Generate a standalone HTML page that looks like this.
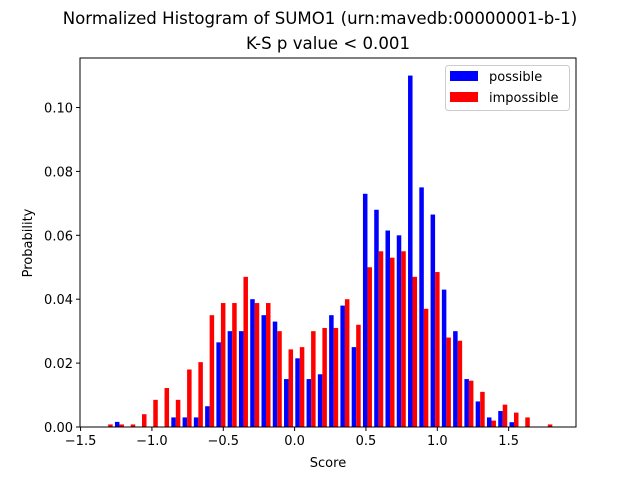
<!DOCTYPE html>
<html><head><meta charset="utf-8"><style>
body{margin:0;background:#fff;font-family:"Liberation Sans","DejaVu Sans",sans-serif}
svg text{font-family:"DejaVu Sans","Liberation Sans",sans-serif}
</style></head><body>
<svg id="chart" width="640" height="480" viewBox="0 0 640 480">
<rect width="640" height="480" fill="#fff"/>
<text x="320" y="24" font-size="16.6" text-anchor="middle">Normalized Histogram of SUMO1 (urn:mavedb:00000001-b-1)</text>
<text x="328" y="49" font-size="16.6" text-anchor="middle">K-S p value &lt; 0.001</text>
<g id="bars"></g>
<g id="axes"></g>
<text x="328" y="467" font-size="13" text-anchor="middle">Score</text>
<text x="32" y="243" font-size="13" text-anchor="middle" transform="rotate(-90 32 243)">Probability</text>
<g>
<rect x="445.5" y="65.5" width="124" height="45" rx="3" fill="#fff" stroke="#ccc"/>
<rect x="450" y="71" width="28" height="10" fill="#0000ff"/>
<text x="489" y="81" font-size="13">possible</text>
<rect x="450" y="92" width="28" height="10" fill="#ff0000"/>
<text x="489" y="102" font-size="13">impossible</text>
</g>
</svg>
<script>
const binStart = -1.346;
const binWidth = 0.079;
const possible = [0,0.0016,0,0,0,0,0.003,0.003,0.003,0.0065,0.0265,0.030,0.030,0.040,0.035,0.033,0.015,0.0215,0.015,0.0165,0.035,0.038,0.025,0.073,0.068,0.0615,0.060,0.110,0.075,0.0665,0.043,0.030,0.015,0.008,0.003,0.005,0.0015,0,0,0];
const impossible = [0.0008,0.0008,0.0008,0.004,0.0085,0.0122,0.0085,0.018,0.0203,0.035,0.0388,0.0388,0.047,0.0388,0.0388,0.030,0.0243,0.025,0.030,0.031,0.031,0.040,0.032,0.050,0.055,0.053,0.055,0.047,0.037,0.0485,0.028,0.027,0.0145,0.011,0.002,0.007,0.0045,0.003,0,0.0008];
const xTicks = [-1.5,-1.0,-0.5,0.0,0.5,1.0,1.5];
const xTickLabels = ["\u22121.5","\u22121.0","\u22120.5","0.0","0.5","1.0","1.5"];
const yTicks = [0,0.02,0.04,0.06,0.08,0.10];
const yTickLabels = ["0.00","0.02","0.04","0.06","0.08","0.10"];

const L=80,R=576,T=58,B=427,xMin=-1.504,xMax=1.972,yMax=0.1155;
const X=v=>L+(v-xMin)/(xMax-xMin)*(R-L);
const Y=v=>B-v/yMax*(B-T);
const NS="http://www.w3.org/2000/svg";
const bars=document.getElementById('bars'), axes=document.getElementById('axes');
function mk(tag,attrs,parent){const e=document.createElementNS(NS,tag);for(const k in attrs)e.setAttribute(k,attrs[k]);parent.appendChild(e);return e;}
[[possible,0.1,'#0000ff','possible'],[impossible,0.5,'#ff0000','impossible']].forEach(([vals,off,col,nm])=>{
  vals.forEach((v,i)=>{
    if(v<=0)return;
    const x0=X(binStart+binWidth*(i+off)), x1=X(binStart+binWidth*(i+off+0.4));
    const r=mk('rect',{x:x0,y:Y(v),width:x1-x0,height:B-Y(v),fill:col},bars);
    
    
  });
});
const frame=mk('rect',{x:L,y:T,width:R-L,height:B-T,fill:'none',stroke:'#000','stroke-width':1},axes);


xTicks.forEach((t,i)=>{
  const x=X(t);
  mk('line',{x1:x,x2:x,y1:B,y2:B+4,stroke:'#000'},axes);
  const tx=mk('text',{x:x,y:B+18,'font-size':13,'text-anchor':'middle'},axes);
  tx.textContent=xTickLabels[i];
  
  
});
yTicks.forEach((t,i)=>{
  const y=Y(t);
  mk('line',{x1:L-4,x2:L,y1:y,y2:y,stroke:'#000'},axes);
  const tx=mk('text',{x:L-7,y:y+5,'font-size':13,'text-anchor':'end'},axes);
  tx.textContent=yTickLabels[i];
  
  
});
</script>
</body></html>
